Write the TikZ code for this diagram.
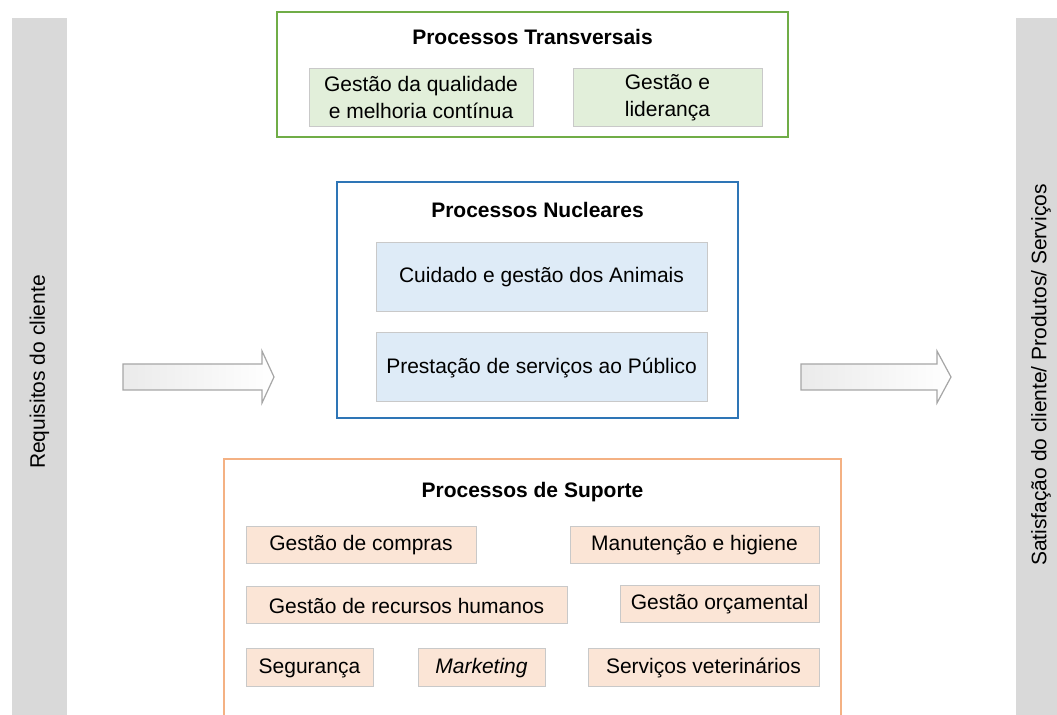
\documentclass[tikz,border=0pt]{standalone}
\usepackage{fontspec}
\setmainfont{Liberation Sans}
\usetikzlibrary{positioning}
\definecolor{barGray}{HTML}{D9D9D9}
\definecolor{transGreen}{HTML}{70AD47}
\definecolor{transFill}{HTML}{E2EFDA}
\definecolor{nucBlue}{HTML}{2E75B6}
\definecolor{nucFill}{HTML}{DEEBF7}
\definecolor{supOrange}{HTML}{F4B183}
\definecolor{supFill}{HTML}{FBE5D6}
\definecolor{boxLine}{HTML}{C9C9C9}
\definecolor{arrowLine}{HTML}{A6A6A6}
\tikzset{
  procbox/.style={draw=boxLine,line width=0.5pt,inner sep=0pt,align=center},
  grouptitle/.style={font=\bfseries},
  bigarrow/.style={draw=arrowLine,line width=0.6pt,left color=black!8,right color=white}
}
\begin{document}
\begin{tikzpicture}[x=0.5pt,y=-0.5pt]
\fontsize{10.5}{13.5}\selectfont
\useasboundingbox (0,0) rectangle (1057,715);
% side bars
\fill[barGray] (12,18) rectangle (67,715);
\fill[barGray] (1016,18) rectangle (1071,715);
\node[rotate=90] (req) at (39.5,372) {Requisitos do cliente};
\node[rotate=90] (sat) at (1041,375) {Satisfação do cliente/ Produtos/ Serviços};
% arrows
\draw[bigarrow] (123,364) -- (262,364) -- (262,351) -- (274,377) -- (262,403) -- (262,390) -- (123,390) -- cycle;
\draw[bigarrow] (801,364) -- (937,364) -- (937,351) -- (951,377) -- (937,403) -- (937,390) -- (801,390) -- cycle;
% transversais
\draw[transGreen,line width=0.8pt] (277,12) rectangle (788,137);
\node[grouptitle] (trans) at (532.5,37) {Processos Transversais};
\node[procbox,fill=transFill,minimum width=112pt,minimum height=29pt] (qual) at (421,98) {Gestão da qualidade\\e melhoria contínua};
\node[procbox,fill=transFill,minimum width=94.5pt,minimum height=29pt] (lid) at (667.5,98) {Gestão e\\liderança};
% nucleares
\draw[nucBlue,line width=0.8pt] (337,182) rectangle (738,418);
\node[grouptitle] (nuc) at (537.5,210) {Processos Nucleares};
\node[procbox,fill=nucFill,minimum width=165.5pt,minimum height=34.5pt] (anim) at (541.5,277.5) {Cuidado e gestão dos Animais};
\node[procbox,fill=nucFill,minimum width=165.5pt,minimum height=34.5pt] (pub) at (541.5,367.5) {Prestação de serviços ao Público};
% suporte
\draw[supOrange,line width=0.8pt] (224,715) -- (224,459) -- (841,459) -- (841,715);
\node[grouptitle] (sup) at (532.5,492) {Processos de Suporte};
\node[procbox,fill=supFill,minimum width=115pt,minimum height=18.5pt] (comp) at (361,545.5) {Gestão de compras};
\node[procbox,fill=supFill,minimum width=124.5pt,minimum height=18.5pt] (manut) at (694.5,545.5) {Manutenção e higiene};
\node[procbox,fill=supFill,minimum width=160.5pt,minimum height=18.5pt] (rh) at (406.5,605.5) {Gestão de recursos humanos};
\node[procbox,fill=supFill,minimum width=99.5pt,minimum height=18.5pt] (orc) at (719.5,604.5) {Gestão orçamental};
\node[procbox,fill=supFill,minimum width=63.5pt,minimum height=19pt] (seg) at (309.5,668) {Segurança};
\node[procbox,fill=supFill,minimum width=63.5pt,minimum height=19pt] (mkt) at (481.5,668) {\itshape Marketing};
\node[procbox,fill=supFill,minimum width=115.5pt,minimum height=19pt] (vet) at (703.5,668) {Serviços veterinários};
\end{tikzpicture}
\end{document}
